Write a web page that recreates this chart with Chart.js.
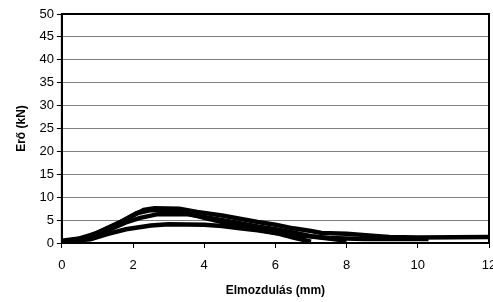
<!DOCTYPE html>
<html>
<head>
<meta charset="utf-8">
<script src="https://cdn.jsdelivr.net/npm/chart.js@4"></script>
<style>
  html, body { margin: 0; padding: 0; background: #fff; }
  #wrap { width: 493px; height: 302px; position: relative; }
</style>
</head>
<body>
<div id="wrap"><canvas id="forceChart"></canvas></div>
<script>
// displacement (mm) / force (kN) pairs, one array per test
const curveA = [[0,0.5],[0.5,1],[1,2.2],[1.5,4],[2,6],[2.3,7.2],[2.6,7.6],[3.3,7.5],[3.8,6.8],[4.5,6],[5,5.3],[5.5,4.6],[6,4],[6.5,3.2],[7,2.6],[7.3,2.2],[8,2],[8.9,1.5],[9.2,1.3],[10,1.2],[12,1.3]];
const curveB = [[0,0.3],[0.7,1.2],[1.2,3],[1.7,4.8],[2.1,6.5],[2.5,7.2],[3,7.1],[3.5,6.5],[4,5.5],[4.5,4.6],[5,3.8],[5.5,3],[6,2.2],[6.5,1.2],[7,0.3]];
const curveC = [[0,0.3],[0.8,0.8],[1.3,2],[1.8,3],[2.5,3.8],[3,4.1],[4,4],[4.5,3.7],[5,3.2],[5.5,2.8],[6,2.2],[6.5,1.8],[7,1.4],[7.5,1],[8,0.5]];
const curveD = [[0,0.2],[0.8,1],[1.3,2.8],[1.8,4.5],[2.2,5.5],[2.7,6.3],[3.5,6.3],[4,5.7],[4.8,4.6],[5.5,3.6],[6,3],[6.5,2.3],[7,1.5],[7.5,1.1],[8.5,0.9],[10.3,0.9]];

const xTicks = [0, 2, 4, 6, 8, 10, 12];
const yTicks = [0, 5, 10, 15, 20, 25, 30, 35, 40, 45, 50];

function toPoints(arr) {
    return arr.map(p => ({ x: p[0], y: p[1] }));
}

// frame round the plot area
const frame = {
    id: 'frame',
    afterDraw(chart) {
        const a = chart.chartArea;
        const c = chart.ctx;
        c.save();
        c.strokeStyle = '#000';
        c.lineWidth = 2;
        c.strokeRect(a.left, a.top, a.right - a.left, a.bottom - a.top);
        c.restore();
    }
};

Chart.defaults.font.family = '"Liberation Sans", Arial, sans-serif';
Chart.defaults.color = '#000';

const ds = [curveA, curveB, curveC, curveD].map(c => ({
    data: toPoints(c),
    showLine: true,
    borderColor: '#000',
    borderWidth: 4.5,
    pointRadius: 0,
    tension: 0
}));

new Chart(document.getElementById('forceChart').getContext('2d'), {
    type: 'scatter',
    data: { datasets: ds },
    options: {
        responsive: true,
        maintainAspectRatio: false,
        animation: false,
        layout: { padding: { top: 14, right: 4, bottom: 0, left: 10 } },
        plugins: { legend: { display: false }, tooltip: { enabled: false } },
        scales: {
            x: {
                type: 'linear',
                min: 0,
                max: 12,
                afterBuildTicks: s => { s.ticks = xTicks.map(v => ({ value: v })); },
                afterFit: s => { s.paddingRight = 0; },
                ticks: { font: { size: 13 }, padding: 10, maxRotation: 0 },
                grid: { drawOnChartArea: false, color: '#000', tickLength: 5 },
                border: { color: '#000', width: 2 },
                title: { display: true, text: 'Elmozdulás (mm)', font: { size: 12, weight: 'bold' }, padding: { top: 0 } }
            },
            y: {
                min: 0,
                max: 50,
                afterBuildTicks: s => { s.ticks = yTicks.map(v => ({ value: v })); },
                ticks: { font: { size: 13 }, padding: 3 },
                grid: { color: '#808080', tickLength: 5, tickColor: '#000' },
                border: { color: '#000', width: 2 },
                title: { display: true, text: 'Erő (kN)', font: { size: 12, weight: 'bold' }, padding: { bottom: 8 } }
            }
        }
    },
    plugins: [frame]
});
</script>
</body>
</html>
